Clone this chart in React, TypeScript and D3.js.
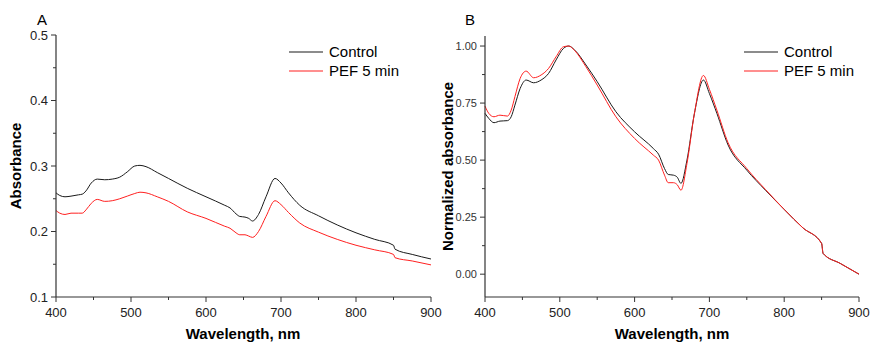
import React from "react";
import * as d3 from "d3";

const wavelengths = [400,405,412,420,430,435,440,447,455,465,475,485,495,505,512,520,535,550,575,600,625,632,640,645,652,657,662,670,680,692,700,710,725,750,775,800,825,850,852,875,900];

const absControl = [0.259,0.255,0.253,0.254,0.256,0.257,0.262,0.274,0.280,0.279,0.280,0.283,0.291,0.300,0.301,0.299,0.290,0.281,0.266,0.253,0.240,0.236,0.227,0.223,0.222,0.220,0.216,0.226,0.253,0.281,0.274,0.259,0.240,0.224,0.210,0.198,0.188,0.179,0.173,0.165,0.158];
const absPEF = [0.232,0.228,0.226,0.228,0.228,0.228,0.233,0.243,0.249,0.246,0.247,0.250,0.254,0.258,0.260,0.259,0.253,0.246,0.230,0.220,0.208,0.205,0.198,0.195,0.195,0.193,0.191,0.200,0.223,0.247,0.241,0.229,0.213,0.199,0.188,0.179,0.172,0.165,0.160,0.155,0.149];

const normControl = [0.705,0.683,0.664,0.671,0.673,0.690,0.741,0.814,0.851,0.839,0.851,0.880,0.939,0.990,1.000,0.982,0.917,0.844,0.712,0.624,0.551,0.526,0.463,0.437,0.434,0.425,0.398,0.500,0.705,0.851,0.792,0.705,0.566,0.456,0.368,0.284,0.203,0.135,0.091,0.047,0.000];
const normPEF = [0.737,0.705,0.690,0.697,0.693,0.719,0.778,0.858,0.890,0.861,0.873,0.902,0.953,0.997,1.000,0.980,0.909,0.829,0.690,0.595,0.522,0.500,0.434,0.401,0.401,0.392,0.368,0.485,0.705,0.871,0.810,0.719,0.576,0.463,0.371,0.284,0.203,0.135,0.091,0.047,0.000];

const xTicks = [400,500,600,700,800,900];
const xMinor = [450,550,650,750,850];
const yTicksA = [0.1,0.2,0.3,0.4,0.5];
const yMinorA = [0.15,0.25,0.35,0.45];
const yTicksB = [0,0.25,0.5,0.75,1.0];
const yMinorB = [0.125,0.375,0.625,0.875];

const seriesNames = ["Control", "PEF 5 min"];
const seriesColors = ["#1a1a1a", "#ff2020"];

const FONT = "Arial, 'Liberation Sans', sans-serif";
const AXIS = "#333";

type PanelProps = {
  letter: string;
  left: number; right: number; top: number; bottom: number;
  yDomain: [number, number];
  yTicks: number[]; yMinor: number[];
  yFmt: (v: number) => string;
  yFont: number; yColor: string;
  series: number[][];
  yTitle: string; yTitleX: number;
  legendX: number;
  letterX: number;
  xTitleX: number;
};

function Panel(p: PanelProps) {
  const x = d3.scaleLinear().domain([400, 900]).range([p.left, p.right]);
  const y = d3.scaleLinear().domain(p.yDomain).range([p.bottom, p.top]);
  const line = d3.line<number>()
    .x((_, i) => x(wavelengths[i]))
    .y((v) => y(v))
    .curve(d3.curveMonotoneX);
  const yCenter = (p.top + p.bottom) / 2;
  return (
    <g fontFamily={FONT}>
      <text x={p.letterX} y={25} fontSize={15} fill="#000">{p.letter}</text>
      {p.series.map((s, i) => (
        <path key={i} d={line(s) || ""} fill="none" stroke={seriesColors[i]} strokeWidth={1} />
      ))}
      <line x1={p.left} x2={p.left} y1={p.top} y2={p.bottom} stroke={AXIS} strokeWidth={1.2} />
      <line x1={p.left} x2={p.right} y1={p.bottom} y2={p.bottom} stroke={AXIS} strokeWidth={1.2} />
      {xTicks.map((t) => (
        <g key={t}>
          <line x1={x(t)} x2={x(t)} y1={p.bottom} y2={p.bottom + 5} stroke={AXIS} />
          <text x={x(t)} y={p.bottom + 20} fontSize={13} textAnchor="middle" fill="#222">{t}</text>
        </g>
      ))}
      {xMinor.map((t) => (
        <line key={t} x1={x(t)} x2={x(t)} y1={p.bottom} y2={p.bottom + 3} stroke={AXIS} />
      ))}
      {p.yTicks.map((t) => (
        <g key={t}>
          <line x1={p.left - 5} x2={p.left} y1={y(t)} y2={y(t)} stroke={AXIS} />
          <text x={p.left - 8} y={y(t)} dy="0.35em" fontSize={p.yFont} textAnchor="end" fill={p.yColor}>{p.yFmt(t)}</text>
        </g>
      ))}
      {p.yMinor.map((t) => (
        <line key={t} x1={p.left - 3} x2={p.left} y1={y(t)} y2={y(t)} stroke={AXIS} />
      ))}
      <text x={p.xTitleX} y={339} fontSize={15} fontWeight="bold" textAnchor="middle" fill="#000">Wavelength, nm</text>
      <text transform={`translate(${p.yTitleX},${yCenter}) rotate(-90)`} fontSize={15} fontWeight="bold" textAnchor="middle" fill="#000">{p.yTitle}</text>
      {seriesNames.map((n, i) => (
        <g key={n}>
          <line x1={p.legendX} x2={p.legendX + 34} y1={52 + i * 19} y2={52 + i * 19} stroke={seriesColors[i]} strokeWidth={1.2} />
          <text x={p.legendX + 40} y={52 + i * 19} dy="0.35em" fontSize={15} fill="#000">{n}</text>
        </g>
      ))}
    </g>
  );
}

export default function App() {
  return (
    <svg width={873} height={344} style={{ position: "absolute", left: 0, top: 0, background: "#fff" }}>
      <rect width={873} height={344} fill="#fff" />
      <Panel
        letter="A" letterX={37}
        left={56} right={431} top={35} bottom={297}
        yDomain={[0.1, 0.5]} yTicks={yTicksA} yMinor={yMinorA}
        yFmt={(v) => d3.format(".1f")(v)} yFont={13} yColor="#222"
        series={[absControl, absPEF]}
        yTitle="Absorbance" yTitleX={21}
        legendX={289}
        xTitleX={243}
      />
      <Panel
        letter="B" letterX={465}
        left={485} right={859} top={36} bottom={297}
        yDomain={[-0.1, 1.044]} yTicks={yTicksB} yMinor={yMinorB}
        yFmt={(v) => d3.format(".2f")(v)} yFont={11} yColor="#333"
        series={[normControl, normPEF]}
        yTitle="Normalized absorbance" yTitleX={453}
        legendX={744}
        xTitleX={672}
      />
    </svg>
  );
}
